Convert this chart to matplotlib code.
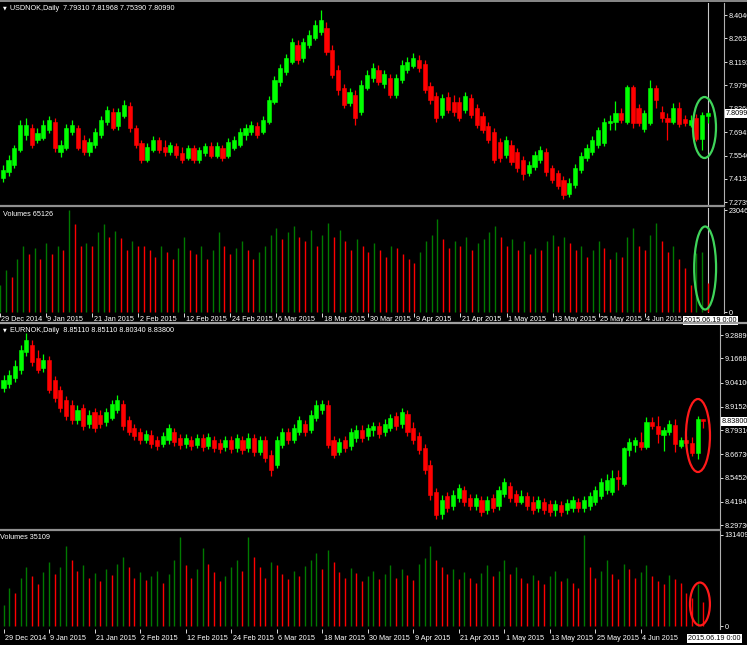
import matplotlib
matplotlib.use("Agg")
import matplotlib.pyplot as plt
from matplotlib.patches import Ellipse
from matplotlib.lines import Line2D
from matplotlib.transforms import blended_transform_factory
import numpy as np
import pandas as pd

# ---------------- USDNOK daily ----------------
usd_open = [7.400, 7.419, 7.455, 7.498, 7.588, 7.679, 7.721, 7.649, 7.661, 7.709,
            7.757, 7.576, 7.600, 7.697, 7.721, 7.649, 7.576, 7.619, 7.679, 7.757,
            7.818, 7.733, 7.794, 7.854, 7.721, 7.631, 7.528, 7.588, 7.649, 7.606,
            7.576, 7.613, 7.570, 7.540, 7.600, 7.528, 7.570, 7.613, 7.552, 7.600,
            7.552, 7.600, 7.619, 7.679, 7.697, 7.733, 7.697, 7.757, 7.878, 7.999,
            8.060, 8.120, 8.223, 8.144, 8.223, 8.265, 8.301, 8.325, 8.193, 8.072,
            7.963, 7.872, 7.921, 7.818, 7.963, 8.023, 8.072, 7.987, 8.023, 7.921,
            8.011, 8.072, 8.096, 8.132, 8.108, 7.975, 7.915, 7.800, 7.908, 7.878,
            7.878, 7.830, 7.902, 7.842, 7.794, 7.733, 7.697, 7.637, 7.558, 7.619,
            7.576, 7.528, 7.449, 7.485, 7.528, 7.576, 7.479, 7.449, 7.407, 7.322,
            7.377, 7.467, 7.540, 7.576, 7.619, 7.631, 7.751, 7.757, 7.812, 7.757,
            7.969, 7.842, 7.715, 7.751, 7.963, 7.818, 7.782, 7.757, 7.842, 7.776,
            7.739, 7.782, 7.655, 7.7931]
usd_high = [7.437, 7.498, 7.558, 7.619, 7.770, 7.782, 7.745, 7.721, 7.770, 7.794,
            7.782, 7.649, 7.745, 7.770, 7.739, 7.679, 7.661, 7.721, 7.794, 7.854,
            7.842, 7.842, 7.890, 7.878, 7.739, 7.649, 7.631, 7.673, 7.667, 7.649,
            7.637, 7.631, 7.606, 7.619, 7.619, 7.606, 7.631, 7.637, 7.637, 7.619,
            7.661, 7.673, 7.721, 7.745, 7.764, 7.757, 7.794, 7.915, 8.035, 8.108,
            8.168, 8.265, 8.253, 8.265, 8.313, 8.374, 8.434, 8.362, 8.223, 8.102,
            7.987, 7.963, 7.951, 8.011, 8.072, 8.114, 8.102, 8.072, 8.047, 8.047,
            8.132, 8.150, 8.174, 8.162, 8.132, 7.999, 7.939, 7.927, 7.939, 7.921,
            7.908, 7.939, 7.927, 7.866, 7.818, 7.757, 7.721, 7.661, 7.673, 7.649,
            7.600, 7.552, 7.522, 7.582, 7.612, 7.600, 7.498, 7.467, 7.431, 7.419,
            7.504, 7.576, 7.624, 7.673, 7.727, 7.782, 7.800, 7.884, 7.842, 7.981,
            7.981, 7.866, 7.830, 8.011, 7.981, 7.854, 7.812, 7.872, 7.878, 7.800,
            7.800, 7.806, 7.818, 7.81968]
usd_low = [7.371, 7.395, 7.431, 7.479, 7.576, 7.649, 7.600, 7.631, 7.649, 7.691,
           7.576, 7.546, 7.588, 7.679, 7.588, 7.558, 7.552, 7.600, 7.661, 7.739,
           7.709, 7.709, 7.782, 7.697, 7.600, 7.510, 7.516, 7.576, 7.570, 7.552,
           7.558, 7.540, 7.510, 7.528, 7.510, 7.510, 7.552, 7.540, 7.540, 7.522,
           7.540, 7.588, 7.606, 7.649, 7.679, 7.661, 7.685, 7.745, 7.866, 7.975,
           8.041, 8.108, 8.108, 8.120, 8.205, 8.253, 8.283, 8.162, 8.023, 7.921,
           7.842, 7.854, 7.739, 7.800, 7.951, 7.999, 7.981, 7.963, 7.902, 7.902,
           7.993, 8.053, 8.084, 8.060, 7.933, 7.866, 7.757, 7.782, 7.812, 7.794,
           7.764, 7.812, 7.782, 7.721, 7.691, 7.631, 7.510, 7.516, 7.540, 7.498,
           7.455, 7.407, 7.431, 7.467, 7.510, 7.431, 7.389, 7.353, 7.292, 7.304,
           7.359, 7.449, 7.522, 7.558, 7.600, 7.612, 7.709, 7.709, 7.751, 7.745,
           7.721, 7.733, 7.697, 7.739, 7.842, 7.757, 7.649, 7.745, 7.727, 7.733,
           7.727, 7.642, 7.588, 7.7539]
usd_close = [7.419, 7.467, 7.528, 7.600, 7.739, 7.739, 7.619, 7.691, 7.739, 7.770,
             7.600, 7.619, 7.721, 7.739, 7.600, 7.576, 7.637, 7.697, 7.770, 7.830,
             7.721, 7.818, 7.860, 7.721, 7.619, 7.528, 7.606, 7.649, 7.588, 7.576,
             7.619, 7.558, 7.528, 7.600, 7.528, 7.588, 7.613, 7.552, 7.613, 7.540,
             7.637, 7.649, 7.697, 7.721, 7.739, 7.679, 7.770, 7.890, 8.011, 8.084,
             8.144, 8.241, 8.132, 8.241, 8.283, 8.344, 8.374, 8.180, 8.041, 7.951,
             7.860, 7.939, 7.782, 7.981, 8.041, 8.084, 7.999, 8.047, 7.921, 8.023,
             8.102, 8.120, 8.144, 8.084, 7.951, 7.890, 7.782, 7.902, 7.830, 7.818,
             7.782, 7.915, 7.800, 7.739, 7.709, 7.649, 7.528, 7.540, 7.649, 7.516,
             7.479, 7.443, 7.498, 7.558, 7.588, 7.455, 7.407, 7.371, 7.316, 7.389,
             7.479, 7.552, 7.600, 7.649, 7.709, 7.757, 7.763, 7.812, 7.770, 7.969,
             7.751, 7.751, 7.812, 7.963, 7.890, 7.782, 7.757, 7.842, 7.745, 7.751,
             7.770, 7.655, 7.800, 7.8099]
# tick volume, thousands
usd_vol = [60, 95, 80, 120, 150, 130, 145, 120, 155, 130,
           150, 140, 230.468, 199, 150, 155, 150, 181, 199, 169,
           183, 167, 140, 160, 150, 150, 140, 125, 150, 135,
           120, 145, 169, 140, 130, 150, 120, 140, 181, 150,
           130, 145, 160, 140, 120, 135, 150, 175, 190, 165,
           180, 195, 170, 160, 185, 150, 175, 200, 170, 185,
           160, 140, 165, 150, 135, 155, 140, 125, 150, 145,
           130, 120, 110, 135, 160, 175, 210, 165, 145, 160,
           150, 170, 140, 155, 165, 180, 195, 170, 150, 165,
           140, 160, 130, 145, 140, 160, 175, 150, 170, 155,
           140, 150, 125, 140, 160, 145, 120, 135, 125, 170,
           190, 150, 140, 175, 200, 160, 135, 150, 120, 100,
           61, 133, 136, 65.126]

# ---------------- EURNOK daily ----------------
eur_open = [9.012, 9.033, 9.065, 9.106, 9.200, 9.237, 9.169, 9.117, 9.158, 9.054,
            9.002, 8.950, 8.924, 8.845, 8.908, 8.824, 8.887, 8.872, 8.835, 8.856,
            8.898, 8.929, 8.845, 8.804, 8.783, 8.741, 8.767, 8.741, 8.720, 8.741,
            8.783, 8.752, 8.720, 8.741, 8.715, 8.752, 8.710, 8.741, 8.725, 8.705,
            8.741, 8.699, 8.741, 8.699, 8.752, 8.678, 8.741, 8.663, 8.610, 8.715,
            8.783, 8.741, 8.783, 8.824, 8.793, 8.856, 8.898, 8.924, 8.741, 8.678,
            8.741, 8.710, 8.752, 8.793, 8.762, 8.793, 8.814, 8.783, 8.804, 8.866,
            8.824, 8.877, 8.804, 8.762, 8.699, 8.610, 8.470, 8.355, 8.449, 8.397,
            8.438, 8.480, 8.438, 8.397, 8.428, 8.376, 8.438, 8.397, 8.459, 8.501,
            8.459, 8.417, 8.449, 8.417, 8.386, 8.417, 8.407, 8.376, 8.402, 8.376,
            8.386, 8.417, 8.386, 8.397, 8.417, 8.449, 8.480, 8.470, 8.548, 8.511,
            8.689, 8.715, 8.731, 8.705, 8.835, 8.814, 8.767, 8.783, 8.819, 8.710,
            8.741, 8.725, 8.673, 8.8511]
eur_high = [9.080, 9.106, 9.158, 9.237, 9.299, 9.263, 9.211, 9.190, 9.179, 9.075,
            9.023, 8.971, 8.950, 8.924, 8.929, 8.898, 8.908, 8.898, 8.908, 8.950,
            8.976, 8.950, 8.866, 8.824, 8.804, 8.793, 8.793, 8.762, 8.783, 8.824,
            8.804, 8.772, 8.772, 8.762, 8.772, 8.772, 8.778, 8.762, 8.746, 8.762,
            8.762, 8.772, 8.762, 8.778, 8.772, 8.762, 8.762, 8.689, 8.762, 8.804,
            8.804, 8.824, 8.866, 8.845, 8.898, 8.950, 8.950, 8.950, 8.762, 8.752,
            8.762, 8.804, 8.819, 8.819, 8.824, 8.835, 8.835, 8.851, 8.877, 8.887,
            8.908, 8.898, 8.835, 8.783, 8.720, 8.637, 8.490, 8.454, 8.470, 8.480,
            8.511, 8.501, 8.459, 8.459, 8.449, 8.449, 8.459, 8.501, 8.543, 8.522,
            8.480, 8.480, 8.470, 8.449, 8.449, 8.438, 8.428, 8.428, 8.423, 8.433,
            8.449, 8.438, 8.449, 8.470, 8.501, 8.543, 8.563, 8.584, 8.584, 8.704,
            8.752, 8.757, 8.783, 8.861, 8.861, 8.866, 8.809, 8.845, 8.851, 8.757,
            8.762, 8.757, 8.866, 8.8511]
eur_low = [8.991, 9.012, 9.044, 9.085, 9.179, 9.127, 9.091, 9.096, 8.986, 8.939,
           8.887, 8.845, 8.824, 8.824, 8.793, 8.804, 8.783, 8.804, 8.814, 8.845,
           8.882, 8.793, 8.767, 8.741, 8.720, 8.725, 8.699, 8.689, 8.705, 8.720,
           8.710, 8.694, 8.699, 8.689, 8.699, 8.684, 8.694, 8.678, 8.673, 8.684,
           8.673, 8.678, 8.668, 8.678, 8.657, 8.663, 8.626, 8.553, 8.595, 8.699,
           8.720, 8.725, 8.767, 8.762, 8.778, 8.840, 8.877, 8.699, 8.647, 8.663,
           8.678, 8.689, 8.731, 8.731, 8.741, 8.762, 8.752, 8.762, 8.788, 8.793,
           8.804, 8.762, 8.720, 8.668, 8.563, 8.428, 8.329, 8.329, 8.365, 8.376,
           8.417, 8.397, 8.376, 8.376, 8.344, 8.355, 8.365, 8.376, 8.444, 8.417,
           8.397, 8.407, 8.376, 8.355, 8.365, 8.355, 8.344, 8.344, 8.344, 8.355,
           8.365, 8.365, 8.365, 8.376, 8.402, 8.433, 8.459, 8.454, 8.480, 8.501,
           8.657, 8.678, 8.689, 8.694, 8.798, 8.725, 8.684, 8.767, 8.678, 8.699,
           8.705, 8.657, 8.642, 8.8034]
eur_close = [9.054, 9.080, 9.127, 9.211, 9.263, 9.148, 9.106, 9.158, 9.002, 8.960,
             8.908, 8.866, 8.845, 8.898, 8.814, 8.872, 8.804, 8.824, 8.887, 8.929,
             8.950, 8.814, 8.783, 8.762, 8.741, 8.772, 8.720, 8.710, 8.762, 8.804,
             8.731, 8.715, 8.752, 8.710, 8.752, 8.705, 8.757, 8.699, 8.694, 8.741,
             8.694, 8.752, 8.689, 8.752, 8.678, 8.741, 8.647, 8.584, 8.741, 8.783,
             8.741, 8.804, 8.845, 8.783, 8.872, 8.924, 8.929, 8.715, 8.663, 8.731,
             8.699, 8.783, 8.793, 8.752, 8.804, 8.814, 8.772, 8.824, 8.856, 8.814,
             8.887, 8.783, 8.741, 8.689, 8.584, 8.454, 8.350, 8.428, 8.386, 8.454,
             8.490, 8.417, 8.397, 8.438, 8.365, 8.428, 8.386, 8.480, 8.522, 8.438,
             8.417, 8.449, 8.397, 8.376, 8.428, 8.376, 8.365, 8.407, 8.365, 8.412,
             8.428, 8.386, 8.428, 8.449, 8.480, 8.522, 8.532, 8.543, 8.537, 8.699,
             8.731, 8.741, 8.705, 8.835, 8.814, 8.772, 8.793, 8.824, 8.720, 8.741,
             8.725, 8.673, 8.851, 8.8380]
eur_vol = [30, 55, 48, 70, 85, 72, 60, 78, 92, 75,
           85, 115, 95, 80, 88, 70, 76, 65, 82, 74,
           90, 100, 85, 70, 78, 66, 72, 80, 62, 75,
           95, 128, 88, 70, 82, 112, 90, 78, 65, 72,
           85, 95, 80, 128, 100, 85, 70, 92, 88, 75,
           68, 80, 72, 86, 95, 105, 82, 110, 92, 78,
           70, 84, 76, 65, 72, 80, 68, 75, 88, 70,
           82, 74, 66, 90, 98, 115, 95, 85, 75, 82,
           68, 78, 70, 62, 76, 88, 72, 80, 95, 75,
           85, 70, 62, 74, 66, 60, 72, 80, 65, 70,
           62, 55, 131.409, 85, 70, 80, 95, 75, 68, 90,
           82, 70, 78, 88, 72, 65, 60, 74, 68, 62,
           48, 40, 60, 35.109]

usd_ticks = [8.4040, 8.2638, 8.1193, 7.9790, 7.8366, 7.6943, 7.5540, 7.4138, 7.2739]
eur_ticks = [9.28890, 9.16680, 9.04100, 8.91520, 8.79310, 8.66730, 8.54520, 8.41940, 8.29730]
usd_vmax = 230468
eur_vmax = 131409

usd_header = "USDNOK,Daily  7.79310 7.81968 7.75390 7.80990"
eur_header = "EURNOK,Daily  8.85110 8.85110 8.80340 8.83800"

dates = [d for d in pd.bdate_range("2014-12-29", "2015-06-19") if d != pd.Timestamp("2015-01-01")]

# ---------------- style ----------------
W, H = 747, 645
BG = "black"
UP, DN = "#00ff00", "#ff0000"
VUP, VDN = "#007a00", "#ff0000"
FG = "white"
EDGE = "#b0b0b0"
FONT = "Liberation Sans"
FS = 5.2

fig = plt.figure(figsize=(W / 100, H / 100), dpi=100, facecolor=BG)


def px_axes(x0, y0, x1, y1):
    ax = fig.add_axes([x0 / W, 1 - y1 / H, (x1 - x0) / W, (y1 - y0) / H])
    ax.set_facecolor(BG)
    for s in ax.spines.values():
        s.set_visible(False)
    ax.spines["right"].set_visible(True)
    ax.spines["right"].set_color(EDGE)
    ax.spines["right"].set_linewidth(0.8)
    return ax


def hline(y, x0, x1, color, lw):
    fig.add_artist(Line2D([x0 / W, x1 / W], [1 - y / H, 1 - y / H], transform=fig.transFigure,
                          color=color, lw=lw))


def draw_candles(ax, o, h, l, c):
    x = np.arange(len(c))
    o, h, l, c = map(np.asarray, (o, h, l, c))
    col = np.where(c >= o, UP, DN)
    ax.vlines(x, l, h, colors=col, lw=0.9)
    ax.bar(x, np.abs(c - o), bottom=np.minimum(o, c), width=0.72, color=col,
           edgecolor=col, linewidth=0.4)


def draw_volume(ax, v):
    v = np.asarray(v) * 1000
    x = np.arange(len(v))
    # volume bar is green when it exceeds the previous bar's volume
    col = [VUP] + [VUP if v[i] > v[i - 1] else VDN for i in range(1, len(v))]
    ax.vlines(x, 0, v, colors=col, lw=1.0)


def price_ticks(ax, ticks, fmt):
    ax.yaxis.tick_right()
    ax.set_yticks(ticks)
    ax.set_yticklabels([fmt.format(t) for t in ticks])
    ax.tick_params(axis="y", colors=FG, labelsize=FS, length=2, width=0.6, pad=1.5,
                   direction="out")
    ax.tick_params(axis="x", bottom=False, labelbottom=False)


def volume_ticks(ax, vmax):
    ax.yaxis.tick_right()
    ax.set_yticks([0, vmax])
    ax.set_yticklabels(["0", str(vmax)])
    ax.tick_params(axis="y", colors=FG, labelsize=FS, length=2, width=0.6, pad=1.5)


def date_axis(ax, label_idx, dy, box_x):
    ax.set_xticks(label_idx)
    ax.tick_params(axis="x", colors=FG, length=3, width=0.6, labelbottom=False, direction="out")
    tr = blended_transform_factory(ax.transData, ax.transAxes)
    for i in label_idx:
        d = dates[i]
        ax.text(i + 0.25, dy, f"{d.day} {d.strftime('%b %Y')}", transform=tr, color=FG,
                fontsize=FS, fontfamily=FONT, ha="left", va="top", clip_on=False)
    last = len(dates) - 1
    ax.text(box_x, dy - 0.005, dates[last].strftime("%Y.%m.%d") + " 0:00", transform=tr,
            color="black", fontsize=FS, fontfamily=FONT, ha="center", va="top",
            bbox=dict(boxstyle="square,pad=0.15", fc="white", ec="none"), zorder=10)


def current_box(ax, price, text):
    tr = blended_transform_factory(ax.transAxes, ax.transData)
    ax.text(1.002, price, text, transform=tr, color="black", fontsize=FS, fontfamily=FONT,
            ha="left", va="center", bbox=dict(boxstyle="square,pad=0.12", fc="white", ec="none"),
            zorder=10, clip_on=False)


def header(ax, text):
    ax.text(0.004, 0.99, "▼", transform=ax.transAxes, color=FG, fontsize=3.5, va="top", ha="left")
    ax.text(0.014, 0.99, text, transform=ax.transAxes, color=FG, fontsize=FS,
            fontfamily=FONT, va="top", ha="left")


label_idx = list(range(0, 113, 8))
n = len(dates)

# top window (USDNOK)
ax1 = px_axes(0, 3, 724, 205)
ax2 = px_axes(0, 208, 724, 313)
x_lo, x_hi = 3 / 5.78, (724 + 3) / 5.78
for a in (ax1, ax2):
    a.set_xlim(x_lo, x_hi)
ax1.set_ylim(7.2559, 8.4766)
ax2.set_ylim(-2259, 234987)

draw_candles(ax1, usd_open, usd_high, usd_low, usd_close)
draw_volume(ax2, usd_vol)
price_ticks(ax1, usd_ticks, "{:.4f}")
volume_ticks(ax2, usd_vmax)
date_axis(ax2, label_idx, -0.03, n - 0.6)
current_box(ax1, usd_close[-1], f"{usd_close[-1]:.4f}")
for a in (ax1, ax2):
    a.axvline(n - 1, color="#c8c8c8", lw=0.8, zorder=0)
header(ax1, usd_header)
ax2.text(0.004, 0.97, f"Volumes {round(usd_vol[-1] * 1000)}", transform=ax2.transAxes,
         color=FG, fontsize=FS, fontfamily=FONT, va="top", ha="left")
ax1.add_patch(Ellipse((122.4, 7.7242), 3.98, 0.3686, fill=False, ec="#3fd45a", lw=1.6, zorder=8))
ax2.add_patch(Ellipse((122.5, 99418), 3.8, 187538, fill=False, ec="#3fd45a", lw=1.6, zorder=8))

# bottom window (EURNOK)
ax3 = px_axes(0, 325, 720, 528)
ax4 = px_axes(0, 531, 720, 629)
x_lo, x_hi = -3.5 / 5.69, (720 - 3.5) / 5.69
for a in (ax3, ax4):
    a.set_xlim(x_lo, x_hi)
ax3.set_ylim(8.2817, 9.3411)
ax4.set_ylim(-4332, 137185)

draw_candles(ax3, eur_open, eur_high, eur_low, eur_close)
draw_volume(ax4, eur_vol)
price_ticks(ax3, eur_ticks, "{:.5f}")
volume_ticks(ax4, eur_vmax)
date_axis(ax4, label_idx, -0.06, n + 0.9)
current_box(ax3, eur_close[-1], f"{eur_close[-1]:.5f}")
header(ax3, eur_header)
ax4.text(0.0, 0.97, f"Volumes {round(eur_vol[-1] * 1000)}", transform=ax4.transAxes,
         color=FG, fontsize=FS, fontfamily=FONT, va="top", ha="left")
ax3.add_patch(Ellipse((122.05, 8.7644), 4.22, 0.381, fill=False, ec="#ff1a1a", lw=1.6, zorder=8))
ax4.add_patch(Ellipse((122.4, 31768), 3.5, 62000, fill=False, ec="#ff1a1a", lw=1.6, zorder=8))

for a in (ax1, ax2, ax3, ax4):
    for t in a.get_yticklabels():
        t.set_fontfamily(FONT)

# window frames and separators
hline(0.7, 0, 747, "#a0a0a0", 1.2)
hline(206.5, 0, 724, "#909090", 1.6)
hline(322.5, 0, 747, "#a0a0a0", 1.6)
hline(529.5, 0, 720, "#909090", 1.6)

fig.savefig("out.png", dpi=100, facecolor=BG)
